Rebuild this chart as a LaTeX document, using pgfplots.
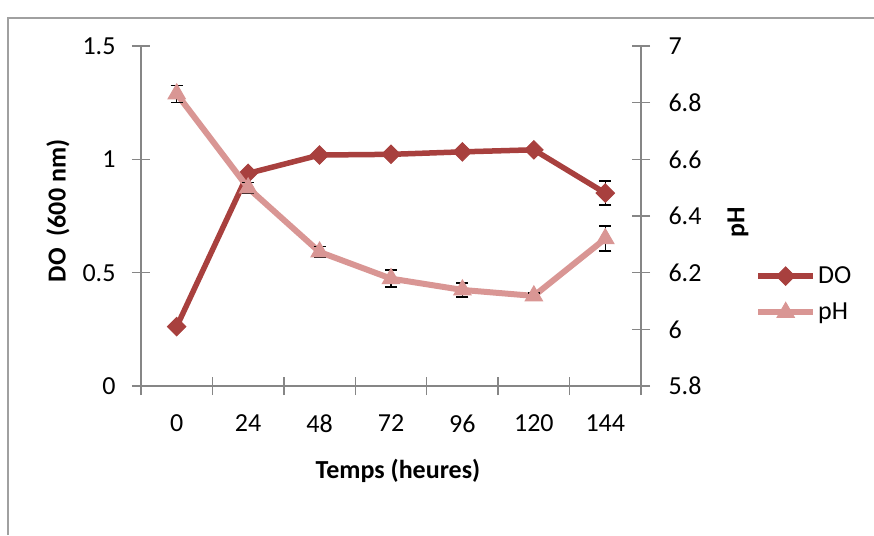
\documentclass[border=0pt]{standalone}
\usepackage{pgfplots}
\pgfplotsset{compat=1.18}
\usepackage{fontspec}
\setmainfont{Carlito}
\definecolor{doc}{RGB}{168,64,62}
\definecolor{phc}{RGB}{217,150,148}
\definecolor{axc}{RGB}{134,134,134}
\definecolor{frc}{RGB}{160,160,160}
\pgfplotsset{
  common/.style={
    scale only axis, width=500pt, height=340pt,
    xmin=-0.5, xmax=6.5,
    tick align=center, major tick length=18pt,
    axis line style={draw=axc, line width=1.5pt, -},
    tick style={draw=axc, line width=1.5pt},
    font=\fontsize{26}{31}\selectfont,
    tick label style={font=\fontsize{26}{31}\selectfont},
    /pgf/number format/assume math mode=true,
    clip=false,
  },
  legend image code/.code={
    \draw[mark repeat=2,mark phase=2,#1] plot coordinates {(0pt,0pt) (27.5pt,0pt) (55pt,0pt)};
  },
}
\begin{document}
\begin{tikzpicture}
\path[use as bounding box] (-141pt,-149pt) rectangle (733pt,386pt);
\draw[frc, line width=1.5pt] (-133pt,-149pt) -- (-133pt,368pt) -- (733pt,368pt);
\begin{axis}[common,
  axis y line*=left, axis x line*=bottom,
  ymin=0, ymax=1.5, ytick={0,0.5,1,1.5}, yticklabels={0,0.5,1,1.5},
  yticklabel style={xshift=-13pt},
  xtick={-0.5,0.5,1.5,2.5,3.5,4.5,5.5,6.5},
  xticklabels={0,24,48,72,96,120,144,{}},
  xticklabel style={xshift=35.71pt, yshift=-16pt},
  xlabel={\bfseries Temps (heures)},
  xlabel style={at={(axis description cs:0.514,-0.25)}, anchor=center},
  ylabel={\bfseries DO\ \ (600 nm)},
  ylabel style={at={(axis description cs:-0.166,0.515)}, anchor=center},
]
\addplot[doc, line width=5.5pt, mark=square*, mark size=6.5pt,
  mark options={rotate=45, solid, fill=doc, draw=doc, line width=1pt},
  error bars/.cd, y dir=both, y explicit,
  error bar style={black, line width=1.5pt},
  error mark options={rotate=90, mark size=6pt, black, line width=1.5pt}]
  table[x=x, y=y, y error=e] {
x y e
0 0.262 0.01
1 0.938 0.01
2 1.019 0.01
3 1.022 0.01
4 1.033 0.01
5 1.042 0.01
6 0.851 0.053
};
\end{axis}
\begin{axis}[common,
  axis y line*=right, axis x line=none,
  ymin=5.8, ymax=7, ytick={5.8,6,6.2,6.4,6.6,6.8,7},
  yticklabels={5.8,6,6.2,6.4,6.6,6.8,7},
  yticklabel style={xshift=15pt},
  ylabel={\bfseries pH},
  ylabel style={at={(axis description cs:1.194,0.482)}, anchor=center},
  legend style={at={(axis description cs:1.228,0.27)}, anchor=west,
    draw=none, fill=none, inner sep=0pt, row sep=14pt,
    font=\fontsize{26}{31}\selectfont},
  legend cell align=left,
]
\addlegendimage{doc, line width=5.5pt, mark=square*, mark size=6.5pt,
  mark options={rotate=45, solid, fill=doc, draw=doc, line width=1pt}}
\addlegendentry{DO}
\addplot[phc, line width=6pt, mark=triangle*, mark size=10pt,
  mark options={solid, fill=phc, draw=phc, line width=1pt},
  error bars/.cd, y dir=both, y explicit,
  error bar style={black, line width=1.5pt},
  error mark options={rotate=90, mark size=6pt, black, line width=1.5pt}]
  table[x=x, y=y, y error=e] {
x y e
0 6.831 0.03
1 6.499 0.02
2 6.273 0.02
3 6.179 0.03
4 6.139 0.025
5 6.118 0.01
6 6.320 0.044
};
\addlegendentry{pH}
\end{axis}
\end{tikzpicture}
\end{document}
